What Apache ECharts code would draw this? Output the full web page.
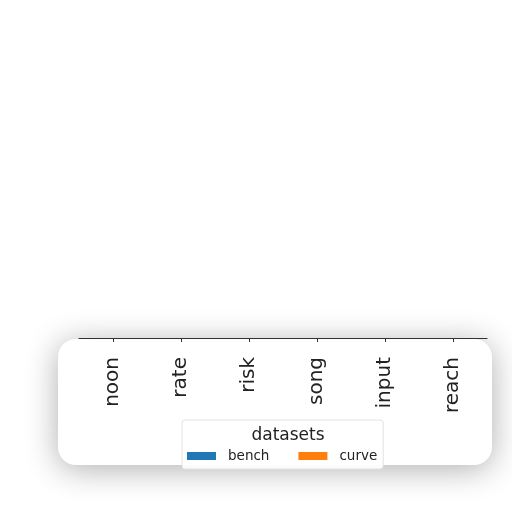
<!DOCTYPE html>
<html>
<head>
<meta charset="utf-8">
<script src="https://cdn.jsdelivr.net/npm/echarts@6/dist/echarts.min.js"></script>
<style>
  html, body { margin: 0; padding: 0; background: #fff; }
  #chart { width: 512px; height: 512px; }
</style>
</head>
<body>
<div id="chart"></div>
<script>
var categories = ['noon', 'rate', 'risk', 'song', 'input', 'reach'];
// no bars are visible above the axis, so every value reads as zero
var bench = [0, 0, 0, 0, 0, 0];
var curve = [0, 0, 0, 0, 0, 0];
var seriesNames = ['bench', 'curve'];
var seriesColors = ['#1f77b4', '#ff7f0e'];

var chart = echarts.init(document.getElementById('chart'));
var font = 'DejaVu Sans';

var option = {
    animation: false,
    backgroundColor: '#fff',
    title: {
        text: 'datasets',
        left: 283,
        top: 422,
        textAlign: 'center',
        textStyle: { fontFamily: font, fontSize: 17, fontWeight: 'normal', color: '#222' }
    },
    legend: {
        data: seriesNames,
        left: 182,
        top: 420,
        orient: 'horizontal',
        padding: [29, 6, 6, 5],
        itemWidth: 29,
        itemHeight: 8,
        itemGap: 29,
        icon: 'rect',
        borderColor: '#e2e2e2',
        borderWidth: 1,
        borderRadius: 3,
        backgroundColor: 'rgba(255,255,255,0.9)',
        textStyle: { fontFamily: font, fontSize: 13.5, color: '#222', padding: [0, 0, 0, 7] }
    },
    graphic: [{
        type: 'rect',
        z: -10,
        shape: { x: 58, y: 339, width: 434, height: 126, r: 18 },
        style: {
            fill: '#fff',
            shadowBlur: 32,
            shadowColor: 'rgba(0,0,0,0.32)',
            shadowOffsetY: 4
        },
        silent: true
    }],
    grid: { left: 79, right: 25, top: 20, bottom: 174 },
    xAxis: {
        type: 'category',
        data: categories,
        boundaryGap: true,
        axisLine: { show: true, lineStyle: { color: '#333', width: 1.2 } },
        axisTick: { show: true, alignWithLabel: true, length: 4, lineStyle: { color: '#333' } },
        axisLabel: { rotate: 90, margin: 19, fontFamily: font, fontSize: 20, color: '#222' },
        splitLine: { show: false }
    },
    yAxis: {
        type: 'value',
        min: 0,
        max: 1,
        show: false
    },
    series: [
        { name: seriesNames[0], type: 'bar', data: bench, itemStyle: { color: seriesColors[0] } },
        { name: seriesNames[1], type: 'bar', data: curve, itemStyle: { color: seriesColors[1] } }
    ]
};

chart.setOption(option);
</script>
</body>
</html>
